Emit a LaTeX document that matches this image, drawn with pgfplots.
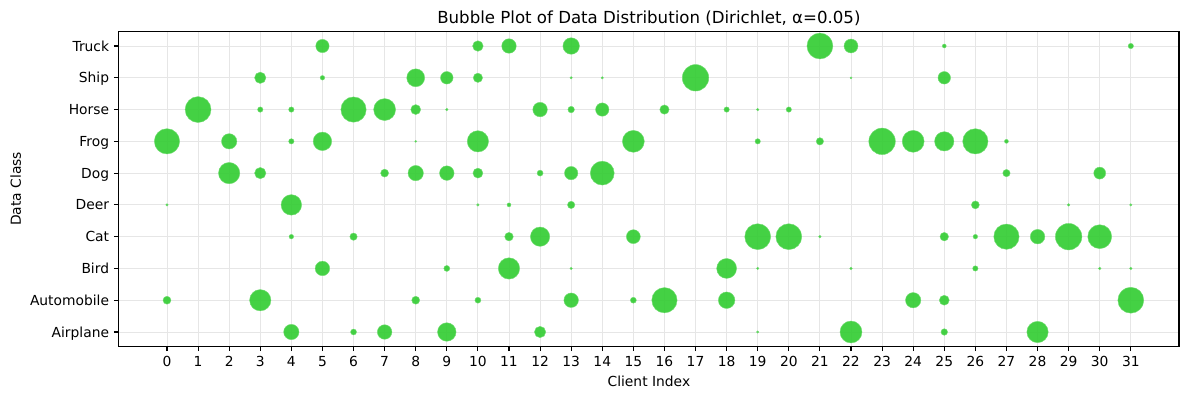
\documentclass[border=0pt]{standalone}
\usepackage{fontspec}
\setmainfont{DejaVu Sans}
\usepackage{pgfplots}
\usepackage{pgfplotstable}
\pgfplotsset{compat=1.18}
\definecolor{bubble}{HTML}{36CD36}
\definecolor{gridc}{HTML}{E6E6E6}

% x = client, y = class (0 Airplane ... 9 Truck), r = bubble radius in px
\pgfplotstableread{
x y r
5 9 6.7
10 9 5.3
11 9 7.3
13 9 8.3
21 9 13
22 9 7
25 9 2
31 9 2.7
3 8 5.7
5 8 2.3
8 8 9
9 8 6.3
10 8 4.7
13 8 1.2
14 8 1.2
17 8 13.3
22 8 1
25 8 6.3
1 7 13
3 7 2.7
4 7 2.7
6 7 12.7
7 7 11
8 7 5
9 7 1.3
12 7 7.3
13 7 3.3
14 7 6.7
16 7 4.7
18 7 2.7
19 7 1.3
20 7 2.7
0 6 12.7
2 6 7.7
4 6 2.7
5 6 9.3
8 6 1
10 6 10.7
15 6 11
19 6 2.7
21 6 3.7
23 6 13.3
24 6 11
25 6 9.7
26 6 12.7
27 6 2
2 5 10.7
3 5 5.7
7 5 4
8 5 7.7
9 5 7.3
10 5 5
12 5 3
13 5 6.7
14 5 12
27 5 3.7
30 5 6
0 4 1.3
4 4 10.3
10 4 1.3
11 4 2
13 4 3.7
26 4 4
29 4 1.3
31 4 1.2
4 3 2.3
6 3 3.7
11 3 4.3
12 3 9.7
15 3 7
19 3 13
20 3 13
21 3 1.3
25 3 4.3
26 3 2.3
27 3 12.7
28 3 7.3
29 3 13.3
30 3 12
5 2 7.3
9 2 3
11 2 10.7
13 2 1.2
18 2 10
19 2 1.2
22 2 1.3
26 2 2.7
30 2 1.3
31 2 1.3
0 1 4
3 1 10.7
8 1 4
10 1 3
13 1 7.3
15 1 3
16 1 12.7
18 1 8.3
24 1 7.7
25 1 5
31 1 13
4 0 7.7
6 0 3
7 0 7.3
9 0 9.3
12 0 5.7
19 0 1.2
22 0 11
25 0 3.3
28 0 10.7
}\bubbles

\begin{document}
\begin{tikzpicture}
\useasboundingbox (-1.188in,-0.527in) rectangle (10.702in,3.463in);
\begin{axis}[
  at={(0,0)}, anchor=south west,
  scale only axis, width=10.602in, height=3.146in,
  xmin=-1.55, xmax=32.55, ymin=-0.45, ymax=9.45,
  xtick={0,...,31}, ytick={0,...,9},
  yticklabels={Airplane,Automobile,Bird,Cat,Deer,Dog,Frog,Horse,Ship,Truck},
  tick align=outside, major tick length=3.5pt,
  tick style={black, line width=0.8pt},
  xtick pos=bottom, ytick pos=left,
  axis line style={black, line width=0.8pt},
  grid=major, grid style={gridc, line width=0.7pt},
  tick label style={font=\fontsize{10}{12}\selectfont},
  yticklabel style={text height=7.3pt, text depth=0pt},
  /pgf/number format/assume math mode=true,
  clip=false,
]
\addplot[scatter, only marks, mark=*, point meta=0,
  scatter/use mapped color={draw=white!30!bubble, fill=bubble},
  fill opacity=0.93, line width=0.3pt,
  visualization depends on={0.72*\thisrow{r} \as \rad},
  scatter/@pre marker code/.append style={/tikz/mark size=\rad pt}]
  table[x=x, y=y] {\bubbles};
\end{axis}
\node[anchor=base, font=\fontsize{12}{14}\selectfont] at (5.301in,3.146in+6pt)
  {Bubble Plot of Data Distribution (Dirichlet, α=0.05)};
\node[anchor=base, font=\fontsize{10}{12}\selectfont] at (5.301in,-29.1pt) {Client Index};
\node[anchor=base, rotate=90, font=\fontsize{10}{12}\selectfont] at (-70.8pt,1.573in) {Data Class};
\end{tikzpicture}
\end{document}
